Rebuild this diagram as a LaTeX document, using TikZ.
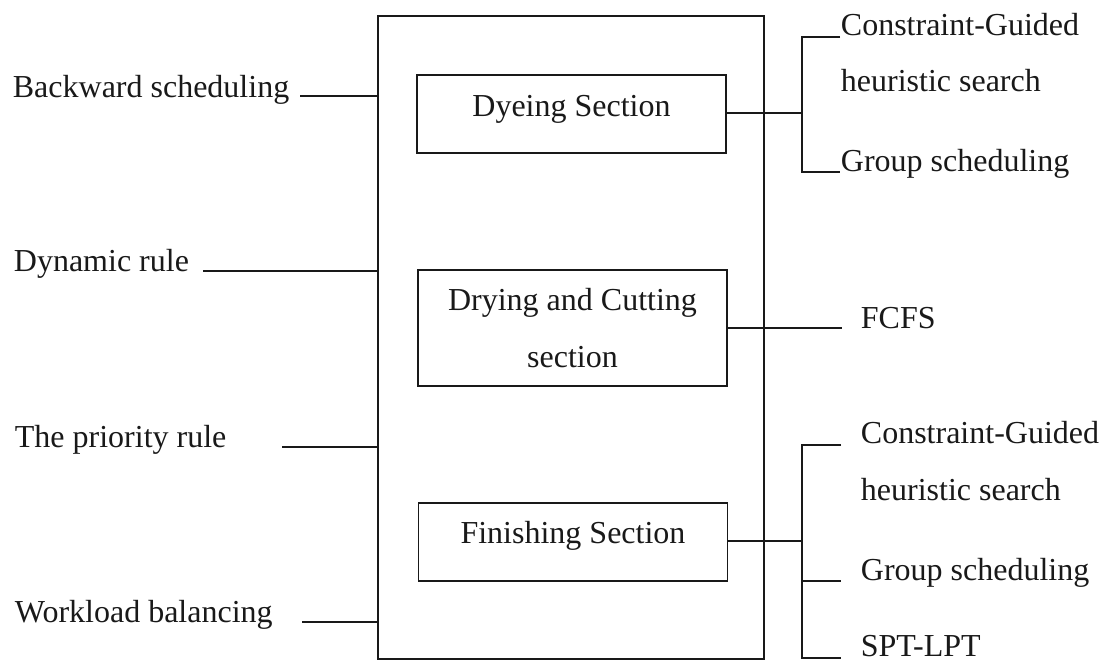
\documentclass[tikz,border=0pt]{standalone}
\usepackage{fontspec}
\setmainfont{Liberation Serif}
\begin{document}
\begin{tikzpicture}[x=1pt,y=-1pt, line width=1.8pt,
  txt/.style={inner sep=0pt, font=\fontsize{32}{38}\selectfont, text=black!90},
  lbl/.style={txt, anchor=base west},
  ctr/.style={txt, anchor=base},
  boxnode/.style={draw=black!90, line width=1.8pt, inner sep=0pt, minimum width=309pt}
]
\path[use as bounding box, fill=white] (0,0) rectangle (1107,661);
\tikzset{every path/.append style={draw=black!90}}

% main frame and section boxes
\node[boxnode, minimum width=386pt, minimum height=643pt] (main) at (571,337.5) {};
\node[boxnode, minimum height=78pt] (dye) at (571.5,114) {};
\node[boxnode, minimum height=116pt] (dry) at (572.5,328) {};
\node[boxnode, minimum height=78pt] (fin) at (573,542) {};

\node[ctr] (dyet) at (571.5,116) {Dyeing Section};
\node[ctr] (dryt1) at (572.5,310) {Drying and Cutting};
\node[ctr] (dryt2) at (572.5,367) {section};
\node[ctr] (fint) at (573,543) {Finishing Section};

% left labels
\node[lbl] (bs) at (12,97) {Backward scheduling};
\node[lbl] (dr) at (13,271) {Dynamic rule};
\node[lbl] (pr) at (14,447) {The priority rule};
\node[lbl] (wl) at (14,622) {Workload balancing};
\coordinate (bsE) at (300,96);
\coordinate (drE) at (203,271);
\coordinate (prE) at (282,447);
\coordinate (wlE) at (302,622);
\draw (bsE) -- (bsE -| main.west);
\draw (drE) -- (drE -| main.west);
\draw (prE) -- (prE -| main.west);
\draw (wlE) -- (wlE -| main.west);

% right labels, top group
\node[lbl] (cg1) at (840,36) {Constraint-Guided};
\node[lbl] (hs1) at (840,91) {heuristic search};
\node[lbl] (gs1) at (840,171) {Group scheduling};
\coordinate (j1) at (802,113);
\coordinate (t1) at (802,37);
\coordinate (b1) at (802,172);
\coordinate (cg1L) at (840,37);
\coordinate (gs1L) at (840,172);
\draw (dye.east |- j1) -- (j1);
\draw (cg1L) -- (t1) -- (b1) -- (gs1L);

% FCFS
\node[lbl] (fc) at (860,328) {FCFS};
\coordinate (fcE) at (842,328);
\draw (dry.east |- fcE) -- (fcE);

% bottom group
\node[lbl] (cg2) at (860,443) {Constraint-Guided};
\node[lbl] (hs2) at (860,500) {heuristic search};
\node[lbl] (gs2) at (860,580) {Group scheduling};
\node[lbl] (sp) at (860,656) {SPT-LPT};
\coordinate (j2) at (802,541);
\coordinate (t2) at (802,445);
\coordinate (b2) at (802,658);
\coordinate (cg2L) at (841,445);
\coordinate (gs2L) at (841,581);
\coordinate (sp2L) at (841,658);
\draw (fin.east |- j2) -- (j2);
\draw (cg2L) -- (t2) -- (b2) -- (sp2L);
\draw (gs2L -| t2) -- (gs2L);
\end{tikzpicture}
\end{document}
